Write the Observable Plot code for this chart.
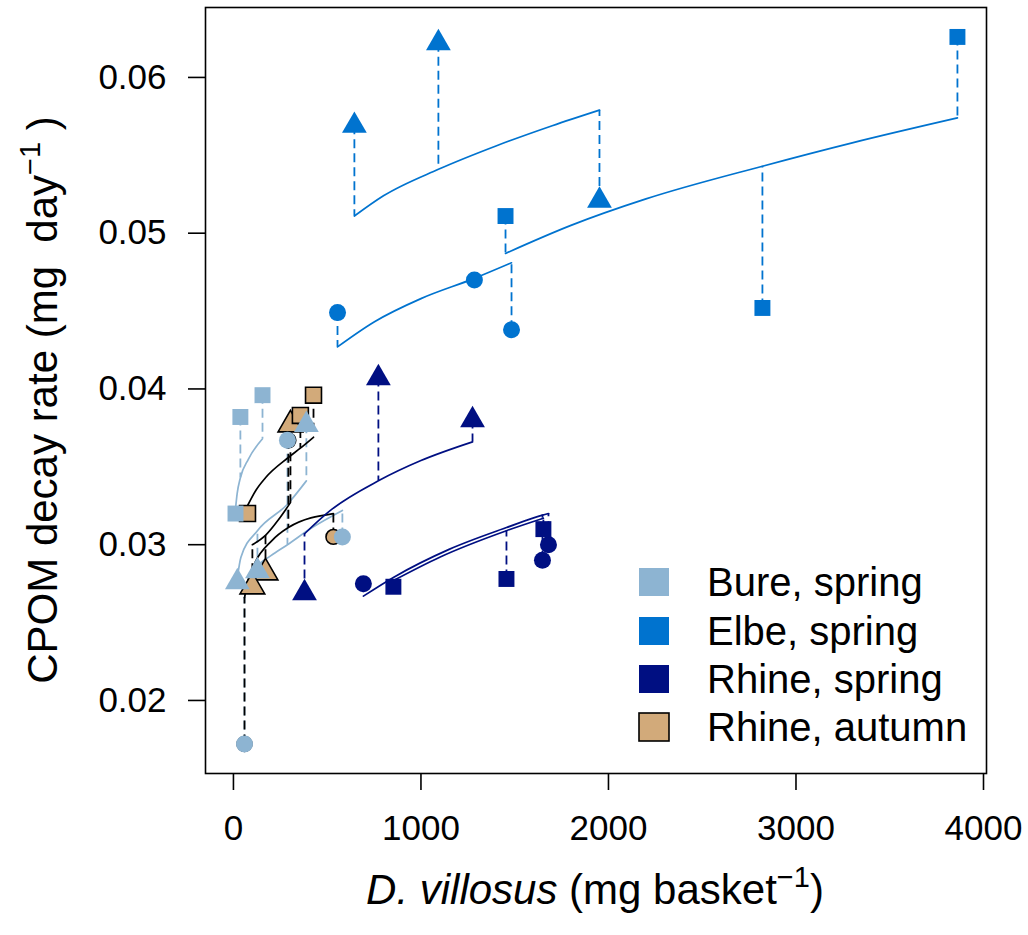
<!DOCTYPE html>
<html><head><meta charset="utf-8">
<script src="https://cdn.jsdelivr.net/npm/d3@7"></script>
<script src="https://cdn.jsdelivr.net/npm/@observablehq/plot@0.6"></script>
<style>body{margin:0;background:#fff;}</style>
</head><body><div id="chart"></div>
<script>
// ---- data ----
const sites = ["Bure, spring", "Elbe, spring", "Rhine, spring", "Rhine, autumn"];
const siteFill = ["#8db4d2", "#0073cf", "#000f82", "#d2aa7a"];
const siteLine = ["#8db4d2", "#0073cf", "#000f82", "#000000"];
const xTicks = [0, 1000, 2000, 3000, 4000];
const yTicks = [0.02, 0.03, 0.04, 0.05, 0.06];

// [shape, D. villosus mg/basket, CPOM decay rate, fitted value]
const burePoints = [
  ["square", 37, 0.0382, 0.0343], ["square", 155, 0.0396, 0.0368], ["square", 11, 0.0320, 0.0323],
  ["triangle", 21, 0.0276, 0.0279], ["triangle", 128, 0.0283, 0.0309], ["triangle", 389, 0.0377, 0.0341],
  ["circle", 59, 0.0172, 0.0266], ["circle", 288, 0.0367, 0.0300], ["circle", 581, 0.0305, 0.0322]
];
const elbePoints = [
  ["triangle", 645, 0.0569, 0.0511], ["triangle", 1093, 0.0622, 0.0541], ["triangle", 1952, 0.0521, 0.0579],
  ["square", 1451, 0.0511, 0.0487], ["square", 2821, 0.0452, 0.0543], ["square", 3861, 0.0626, 0.0574],
  ["circle", 555, 0.0449, 0.0427], ["circle", 1285, 0.0470, 0.0471], ["circle", 1483, 0.0438, 0.0481]
];
const rhineSpringPoints = [
  ["triangle", 773, 0.0407, 0.0341], ["triangle", 1275, 0.0380, 0.0366], ["triangle", 379, 0.0269, 0.0307],
  ["square", 853, 0.0273, 0.0277], ["square", 1456, 0.0278, 0.0309], ["square", 1653, 0.0310, 0.0317],
  ["circle", 693, 0.0275, 0.0267], ["circle", 1680, 0.0300, 0.0320], ["circle", 1648, 0.0290, 0.0319]
];
const rhineAutumnPoints = [
  ["square", 427, 0.0396, 0.0369], ["square", 357, 0.0383, 0.0362], ["square", 75, 0.0320, 0.0325],
  ["triangle", 304, 0.0377, 0.0327], ["triangle", 171, 0.0282, 0.0306], ["triangle", 101, 0.0273, 0.0300],
  ["circle", 533, 0.0305, 0.0320], ["circle", 293, 0.0367, 0.0311], ["circle", 59, 0.0172, 0.0266]
];

// fitted curves: [shape, [[x, y], ...]]
const bureCurves = [
  ["square", [[11, 0.0323], [20, 0.0333], [37, 0.0343], [80, 0.0355], [155, 0.0368]]],
  ["triangle", [[21, 0.0279], [40, 0.0292], [128, 0.0309], [288, 0.0326], [389, 0.0341]]],
  ["circle", [[59, 0.0266], [80, 0.0276], [120, 0.0285], [200, 0.0293], [288, 0.0300], [420, 0.0311], [581, 0.0322]]]
];
const elbeCurves = [
  ["triangle", [[645, 0.0511], [800, 0.0524], [1093, 0.0541], [1400, 0.0556], [1700, 0.0569], [1952, 0.0579]]],
  ["square", [[1451, 0.0487], [1800, 0.0505], [2200, 0.0522], [2821, 0.0543], [3300, 0.0558], [3861, 0.0574]]],
  ["circle", [[555, 0.0427], [750, 0.0443], [1000, 0.0458], [1285, 0.0471], [1483, 0.0481]]]
];
const rhineSpringCurves = [
  ["triangle", [[379, 0.0307], [517, 0.0322], [773, 0.0341], [1000, 0.0354], [1275, 0.0366]]],
  ["square", [[853, 0.0277], [1100, 0.0292], [1456, 0.0309], [1653, 0.0317]]],
  ["circle", [[693, 0.0267], [853, 0.0279], [1150, 0.0297], [1456, 0.0311], [1648, 0.0319], [1680, 0.0320]]]
];
const rhineAutumnCurves = [
  ["square", [[75, 0.0325], [120, 0.0335], [171, 0.0343], [293, 0.0356], [357, 0.0362], [427, 0.0369]]],
  ["triangle", [[101, 0.0300], [171, 0.0306], [240, 0.0316], [304, 0.0327]]],
  ["circle", [[59, 0.0266], [80, 0.0278], [117, 0.0289], [200, 0.0302], [293, 0.0311], [533, 0.0320]]]
];

// ---- build tables ----
const pointSets = [burePoints, elbePoints, rhineSpringPoints, rhineAutumnPoints];
const curveSets = [bureCurves, elbeCurves, rhineSpringCurves, rhineAutumnCurves];
const points = pointSets.map((set, i) => set.map(([shape, x, y, fit]) => ({site: sites[i], shape, x, y, fit})));
const curves = curveSets.map((set, i) => set.flatMap(([shape, pts]) => pts.map(([x, y]) => ({site: sites[i], shape, x, y}))));

const lineOrder = [0, 3, 1, 2];
const dotOrder = [3, 0, 1, 2];
const shapes = ["circle", "triangle", "square"];
const symbolR = {circle: 8.5, triangle: 9.2, square: 9};

const marks = [];
for (const i of lineOrder) {
  marks.push(Plot.line(curves[i], {x: "x", y: "y", z: "shape", stroke: siteLine[i], strokeWidth: 1.7, curve: "monotone-x"}));
  marks.push(Plot.ruleX(points[i], {x: "x", y1: "y", y2: "fit", stroke: siteLine[i], strokeWidth: 1.8, strokeDasharray: "9,5"}));
}
for (const i of dotOrder) {
  for (const s of shapes) {
    const ra = i === 3;
    marks.push(Plot.dot(points[i].filter(d => d.shape === s), {
      x: "x", y: "y", symbol: s, r: ra && s === "circle" ? 7.4 : symbolR[s], fill: siteFill[i],
      stroke: ra ? "black" : "none", strokeWidth: ra ? 1.6 : 0
    }));
  }
}
marks.push(Plot.frame({stroke: "black", strokeWidth: 1.6}));

const chart = Plot.plot({
  width: 1028, height: 935,
  marginLeft: 205, marginRight: 42, marginTop: 7, marginBottom: 162,
  style: {fontFamily: "'Liberation Sans', Arial, sans-serif", fontSize: "35px", background: "#fff", color: "black"},
  x: {domain: [-149, 4016], ticks: xTicks, tickSize: 17, tickPadding: 25, label: null, tickFormat: d => String(d)},
  y: {domain: [0.01531, 0.06449], ticks: yTicks, tickSize: 17, tickPadding: 22, label: null, tickFormat: d => d.toFixed(2)},
  marks
});
document.getElementById("chart").appendChild(chart);

// ---- titles and legend ----
const svg = d3.select(chart);
svg.selectAll("g[aria-label$='axis'] path, g[aria-label$='tick'] path").attr("stroke-width", 1.6);
const font = "'Liberation Sans', Arial, sans-serif";

const yt = svg.append("text").attr("transform", "translate(57,400) rotate(-90)")
  .attr("text-anchor", "middle").attr("font-family", font).attr("font-size", 42).attr("fill", "black");
yt.append("tspan").text("CPOM decay rate (mg  day");
yt.append("tspan").attr("font-size", 29).attr("dy", -17).text("\u22121");
yt.append("tspan").attr("dy", 17).text(" )");

const xt = svg.append("text").attr("x", 595).attr("y", 904)
  .attr("text-anchor", "middle").attr("font-family", font).attr("font-size", 42).attr("fill", "black");
xt.append("tspan").attr("font-style", "italic").text("D. villosus");
xt.append("tspan").text(" (mg basket");
xt.append("tspan").attr("font-size", 29).attr("dy", -17).text("\u22121");
xt.append("tspan").attr("dy", 17).text(")");

const legendY = [582, 631, 679, 727];
const lg = svg.append("g").attr("font-family", font).attr("font-size", 40).attr("text-anchor", "start");
sites.forEach((s, i) => {
  lg.append("rect").attr("x", 639).attr("y", legendY[i] - 14).attr("width", 30).attr("height", 28)
    .attr("fill", siteFill[i]).attr("stroke", i === 3 ? "black" : "none").attr("stroke-width", 1.6);
  lg.append("text").attr("x", 707).attr("y", legendY[i]).attr("dy", "0.36em").attr("fill", "black").text(s);
});
</script></body></html>
